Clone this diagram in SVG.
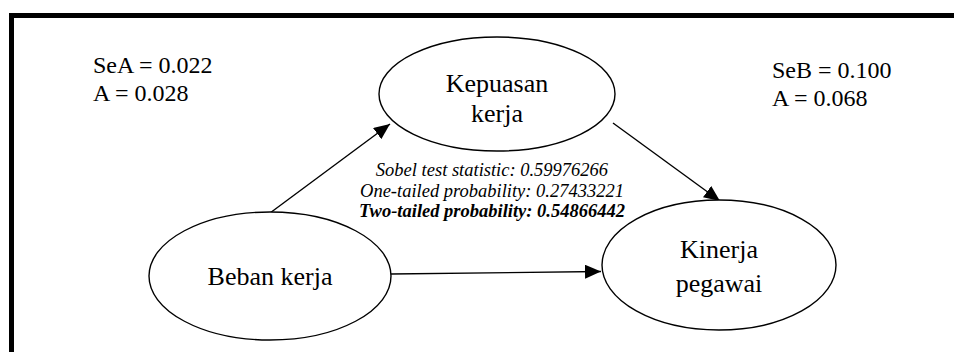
<svg xmlns="http://www.w3.org/2000/svg" width="954" height="352" viewBox="0 0 954 352">
<style>
.node{fill:#fff;stroke:#000;stroke-width:1.4}
.lbl{font-family:"Liberation Serif","Times New Roman",serif;font-size:26px;fill:#000;text-anchor:middle}
.stat{font-family:"Liberation Serif","Times New Roman",serif;font-size:24px;fill:#000}
.sob{font-family:"Liberation Serif","Times New Roman",serif;font-size:18.5px;font-style:italic;fill:#000;text-anchor:middle}
.edge{stroke:#000;stroke-width:1.4;fill:none;marker-end:url(#ah)}
</style>
<defs>
<marker id="ah" markerUnits="userSpaceOnUse" markerWidth="16" markerHeight="14" refX="16" refY="7" orient="auto">
<path d="M0,0 L16,7 L0,14 Z" fill="#000"/>
</marker>
</defs>
<rect x="0" y="0" width="954" height="352" fill="#fff"/>
<path d="M11.5,352 V15.5 H954" fill="none" stroke="#000" stroke-width="5"/>
<g id="labels">
<text class="stat" x="93" y="73">SeA = 0.022</text>
<text class="stat" x="93" y="101">A = 0.028</text>
<text class="stat" x="772" y="78">SeB = 0.100</text>
<text class="stat" x="772" y="106">A = 0.068</text>
<text class="sob" x="492" y="176">Sobel test statistic: 0.59976266</text>
<text class="sob" x="492" y="196.5">One-tailed probability: 0.27433221</text>
<text class="sob" x="492" y="216.5" font-weight="bold">Two-tailed probability: 0.54866442</text>
</g>
<g id="connectors">
<line class="edge" x1="270" y1="213" x2="390" y2="124"/>
<line class="edge" x1="613" y1="123" x2="720" y2="201"/>
<line class="edge" x1="391" y1="274" x2="601" y2="271.5"/>
</g>
<g id="kepuasan">
<ellipse class="node" cx="497" cy="94" rx="118" ry="57"/>
<text class="lbl" x="497" y="92">Kepuasan</text>
<text class="lbl" x="497" y="122">kerja</text>
</g>
<g id="beban">
<ellipse class="node" cx="270" cy="276" rx="121" ry="64"/>
<text class="lbl" x="270" y="285">Beban kerja</text>
</g>
<g id="kinerja">
<ellipse class="node" cx="719" cy="265" rx="117" ry="65"/>
<text class="lbl" x="719" y="258">Kinerja</text>
<text class="lbl" x="719" y="292">pegawai</text>
</g>
</svg>
